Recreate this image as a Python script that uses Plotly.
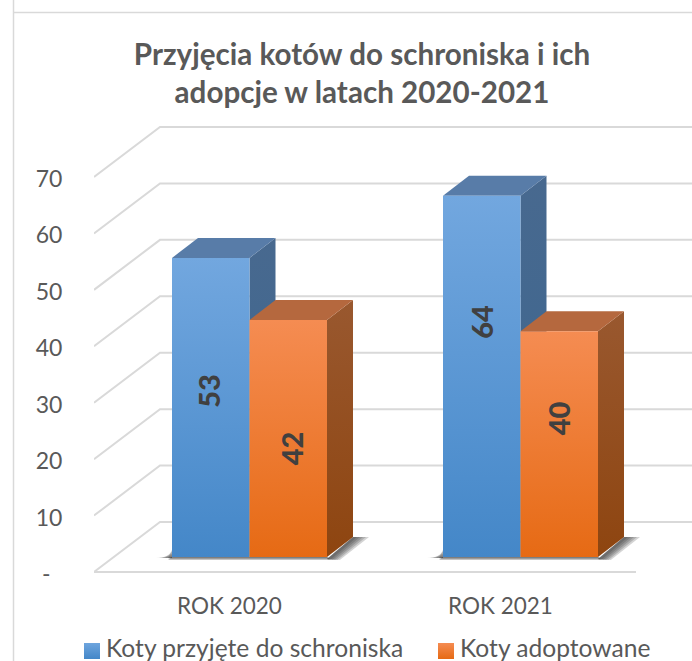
import plotly.graph_objects as go

CATEGORIES = ["ROK 2020", "ROK 2021"]
SERIES_NAMES = ["Koty przyjęte do schroniska", "Koty adoptowane"]
PRZYJETE = [53, 64]
ADOPTOWANE = [42, 40]
Y_TICKS = [0, 10, 20, 30, 40, 50, 60, 70]
Y_TICK_TEXT = ["-\u00a0\u00a0", "10", "20", "30", "40", "50", "60", "70"]
TITLE = "Przyjęcia kotów do schroniska i ich<br>adopcje w latach 2020-2021"

FONT = "Lato"
TEXT = "#595959"
GRID = "#d9d9d9"
W, H = 692, 661
PX_X = 271.0     # px per category
PX_Y = 5.643     # px per value unit
L, B = 94, 83
x0 = -0.5
x1 = x0 + (W - L) / PX_X
y0 = -6 / PX_Y
y1 = y0 + (H - B) / PX_Y

# 3-D projection offsets in axis units
WALL_DX, WALL_DY = 66 / PX_X, 50 / PX_Y     # back wall
BASE_DX, BASE_DY = 20 / PX_X, 15 / PX_Y     # bar front face
DEPTH_DX, DEPTH_DY = 26 / PX_X, 20 / PX_Y   # bar depth
BAR_W = 77.5 / PX_X

fig = go.Figure()

def poly(xs, ys, color=None, gradient=None):
    kw = dict(x=list(xs) + [xs[0]], y=list(ys) + [ys[0]], mode="lines", fill="toself",
              line=dict(width=0), showlegend=False, hoverinfo="skip")
    if gradient:
        kw["fillgradient"] = gradient
    else:
        kw["fillcolor"] = color
    fig.add_trace(go.Scatter(**kw))

def vgrad(top, bottom):
    return dict(type="vertical", colorscale=[[0, bottom], [1, top]])

# walls
for v in Y_TICKS:
    fig.add_trace(go.Scatter(
        x=[x0, x0 + WALL_DX, x1], y=[v, v + WALL_DY, v + WALL_DY],
        mode="lines", line=dict(color=GRID, width=2),
        showlegend=False, hoverinfo="skip"))
fig.add_trace(go.Scatter(x=[-0.5, 1.5], y=[0, 0], mode="lines", line=dict(color=GRID, width=2),
                         showlegend=False, hoverinfo="skip"))

# shadows + bars
STYLE = [
    dict(front=("#72a7df", "#4487c8"), top="#587ca8", side=("#48698f", "#3a6690")),
    dict(front=("#f58c52", "#e66a14"), top="#b5683e", side=("#99582f", "#8e4510")),
]
for ic in range(len(CATEGORIES)):
    left = ic + BASE_DX - BAR_W
    right = ic + BASE_DX + BAR_W
    b = BASE_DY
    bd = b + DEPTH_DY
    px, py = 1 / PX_X, 1 / PX_Y
    for k in (16, 13, 10, 7, 4):
        poly([right, right + DEPTH_DX, right + DEPTH_DX + k * px, right + k * 0.8 * px],
             [b - 2 * py, bd, bd, b - 3 * py], color="rgba(40,40,40,0.2)")
        poly([left, left - k * px, left], [b + (16 - k) * 0.6 * py, b - 1 * py, b - 1 * py],
             color="rgba(40,40,40,0.2)")
    for k in (3, 2, 1):
        poly([left - 4 * px, right + 3 * px, right, left],
             [b - k * py, b - k * py, b, b], color="rgba(60,60,60,0.3)")

    for s, (vals, st) in enumerate(zip([PRZYJETE, ADOPTOWANE], STYLE)):
        v = vals[ic]
        xl = left + s * BAR_W
        xr = xl + BAR_W
        top = b + v
        poly([xr, xr + DEPTH_DX, xr + DEPTH_DX, xr], [b, bd, top + DEPTH_DY, top],
             gradient=vgrad(*st["side"]))
        poly([xl, xl + DEPTH_DX, xr + DEPTH_DX, xr], [top, top + DEPTH_DY, top + DEPTH_DY, top],
             color=st["top"])
        poly([xl, xr, xr, xl], [b, b, top, top], gradient=vgrad(*st["front"]))

# data labels (manually placed in the original): page y, and x nudge from the bar centre
LABEL_POS_PX = {(0, 0): (391, -3), (1, 0): (448, 3), (0, 1): (322, -1), (1, 1): (418, -1)}
for ic in range(len(CATEGORIES)):
    for s, vals in enumerate([PRZYJETE, ADOPTOWANE]):
        ypx, nudge = LABEL_POS_PX[(s, ic)]
        xc = ic + BASE_DX - BAR_W + (s + 0.5) * BAR_W + nudge / PX_X
        fig.add_annotation(x=xc, y=(572 - ypx) / PX_Y, xref="x", yref="y",
                           text=str(vals[ic]), textangle=-90, showarrow=False,
                           font=dict(family=FONT, size=29, color="#404040", weight=900))

# legend, drawn on a full-page overlay axis in page pixels
LEGEND_COLORS = [("#6ea5de", "#4487c8"), ("#f58c52", "#e66a14")]
LEGEND_X = [92, 446]
for name, (c1, c2), lx in zip(SERIES_NAMES, LEGEND_COLORS, LEGEND_X):
    fig.add_trace(go.Scatter(x=[lx], y=[651], xaxis="x2", yaxis="y2", mode="markers", name=name,
                             showlegend=False, hoverinfo="skip",
                             marker=dict(symbol="square", size=16, color=c1, line=dict(width=0),
                                         gradient=dict(type="vertical", color=c2))))
    fig.add_annotation(x=lx + 12, y=647, xref="x2", yref="y2", xanchor="left", yanchor="middle",
                       text=name, showarrow=False, font=dict(family=FONT, size=24.6, color=TEXT))

# chart border
fig.add_shape(type="line", xref="paper", yref="paper", x0=13.5 / W, x1=13.5 / W, y0=0, y1=1,
              line=dict(color=GRID, width=1.5))
fig.add_shape(type="line", xref="paper", yref="paper", x0=13.5 / W, x1=1,
              y0=1 - 12.5 / H, y1=1 - 12.5 / H, line=dict(color=GRID, width=1.5))

fig.update_layout(
    width=W, height=H, margin=dict(l=0, r=0, t=0, b=0),
    paper_bgcolor="white", plot_bgcolor="rgba(0,0,0,0)",
    font=dict(family=FONT, color=TEXT),
    title=dict(text=TITLE, x=362 / W, xanchor="center", xref="container", yref="container",
               y=1 - 65 / H, yanchor="middle",
               font=dict(family=FONT, size=29.6, color=TEXT, weight="bold")),
    showlegend=False,
    xaxis=dict(automargin=False, domain=[L / W, 1], range=[x0, x1], tickmode="array", tickvals=[0, 1], ticktext=CATEGORIES,
               showgrid=False, zeroline=False, showline=False, ticks="outside", ticklen=8,
               tickcolor="rgba(0,0,0,0)", tickfont=dict(family=FONT, size=22.5, color=TEXT)),
    yaxis=dict(automargin=False, domain=[B / H, 1], range=[y0, y1], tickmode="array", tickvals=Y_TICKS, ticktext=Y_TICK_TEXT,
               showgrid=False, zeroline=False, showline=False, ticks="outside", ticklen=26, ticklabelshift=2,
               tickcolor="rgba(0,0,0,0)", tickfont=dict(family=FONT, size=23, color=TEXT)),
    xaxis2=dict(automargin=False, domain=[0, 1], range=[0, W], visible=False, anchor="y2", fixedrange=True),
    yaxis2=dict(automargin=False, domain=[0, 1], range=[H, 0], visible=False, anchor="x2", fixedrange=True),
)
fig.write_html("out.html", config={"displayModeBar": False},
               post_script="document.body.style.margin='0';document.documentElement.style.overflow='hidden';")
